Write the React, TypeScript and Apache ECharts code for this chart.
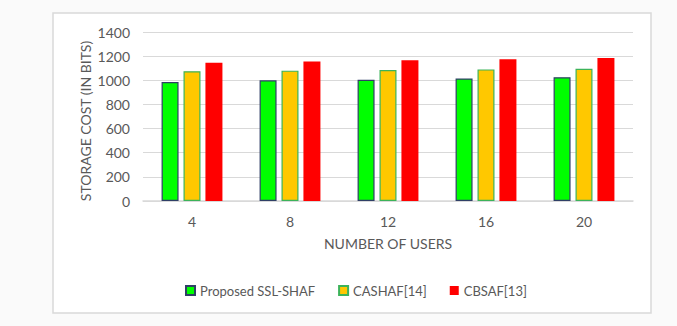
import React, { useEffect, useRef } from "react";
import * as echarts from "echarts";

const categories = ["4", "8", "12", "16", "20"];
const proposed = [985, 1000, 1005, 1015, 1025];
const cashaf = [1075, 1080, 1085, 1090, 1095];
const cbsaf = [1145, 1155, 1165, 1175, 1185];
const seriesNames = ["Proposed SSL-SHAF", "CASHAF[14]", "CBSAF[13]"];
const yTitle = "STORAGE COST (IN BITS)";
const xTitle = "NUMBER OF USERS";

const FONT = "Lato";
const TXT = "#595959";
const FS = 14;

export default function App() {
  const ref = useRef<HTMLDivElement>(null);
  useEffect(() => {
    if (!ref.current) return;
    const chart = echarts.init(ref.current, undefined, { renderer: "svg" });
    chart.setOption({
      animation: false,
      backgroundColor: "#fafafa",
      textStyle: { fontFamily: FONT, color: TXT },
      graphic: [
        {
          type: "rect",
          shape: { x: 53, y: 13, width: 598, height: 300 },
          style: { fill: "#ffffff", stroke: "#d9d9d9", lineWidth: 1.5 },
          z: -10,
          silent: true,
        },
        {
          type: "text",
          x: 85,
          y: 121,
          rotation: Math.PI / 2,
          silent: true,
          style: {
            text: yTitle,
            fill: TXT,
            fontFamily: FONT,
            fontSize: FS,
            align: "center",
            verticalAlign: "middle",
          },
        },
      ],
      grid: { left: 143, right: 44, top: 32, bottom: 125, containLabel: false },
      legend: {
        left: 185,
        top: 284,
        padding: 0,
        itemWidth: 9,
        itemHeight: 9,
        itemGap: 23,
        icon: "rect",
        textStyle: { fontFamily: FONT, fontSize: 13, color: TXT },
        data: seriesNames,
      },
      xAxis: {
        type: "category",
        data: categories,
        name: xTitle,
        nameLocation: "middle",
        nameGap: 35,
        nameMoveOverlap: false,
        nameTextStyle: { fontFamily: FONT, fontSize: FS, color: TXT },
        axisLine: { lineStyle: { color: "#d9d9d9", width: 1.5 } },
        axisTick: { show: false },
        axisLabel: { margin: 13, fontFamily: FONT, fontSize: FS, color: TXT },
      },
      yAxis: {
        type: "value",
        min: 0,
        max: 1400,
        interval: 200,
        axisLine: { show: false },
        axisTick: { show: false },
        axisLabel: {
          margin: 13,
          fontFamily: FONT,
          fontSize: FS,
          color: TXT,
          formatter: (v: number) => String(v),
        },
        splitLine: { lineStyle: { color: "#d9d9d9", width: 1 } },
      },
      series: [
        {
          name: seriesNames[0],
          type: "bar",
          data: proposed,
          barWidth: 17,
          barGap: "29%",
          itemStyle: { color: "#00ff00", borderColor: "#2f3f66", borderWidth: 1.2 },
        },
        {
          name: seriesNames[1],
          type: "bar",
          data: cashaf,
          barWidth: 17,
          barGap: "29%",
          itemStyle: { color: "#ffc800", borderColor: "#3cb35a", borderWidth: 1.2 },
        },
        {
          name: seriesNames[2],
          type: "bar",
          data: cbsaf,
          barWidth: 17,
          barGap: "29%",
          itemStyle: { color: "#ff0000" },
        },
      ],
    });
    return () => chart.dispose();
  }, []);
  return (
    <div
      ref={ref}
      style={{ position: "fixed", left: 0, top: 0, width: 677, height: 326 }}
    />
  );
}
